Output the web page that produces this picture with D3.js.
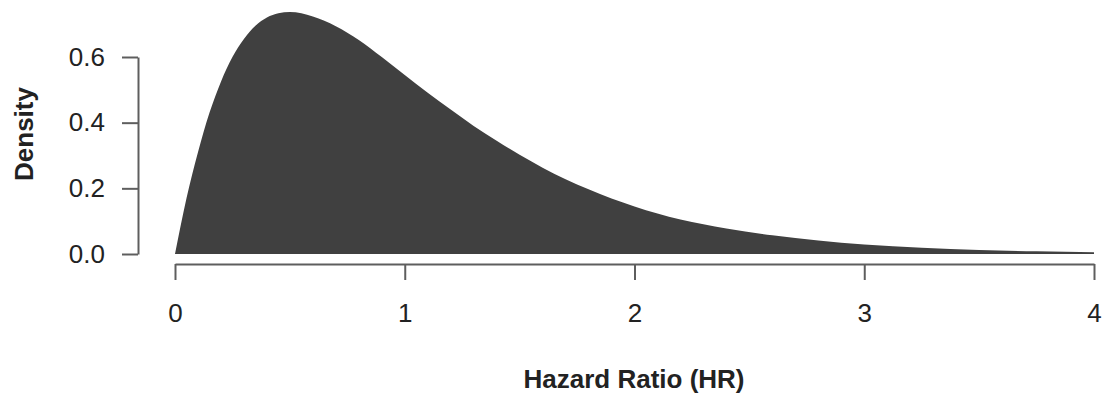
<!DOCTYPE html>
<html>
<head>
<meta charset="utf-8">
<script src="https://cdn.jsdelivr.net/npm/d3@7"></script>
<style>
  body { margin: 0; background: #fff; }
  svg text { font-family: "Liberation Sans", Arial, sans-serif; fill: #222; }
</style>
</head>
<body>
<div id="chart"></div>
<script>
// values: hazard ratio and density
const hr = [0, 0.05, 0.1, 0.15, 0.2, 0.25, 0.3, 0.35, 0.4, 0.45, 0.5, 0.55, 0.6, 0.7, 0.8, 0.9,
            1.0, 1.1, 1.2, 1.3, 1.4, 1.5, 1.6, 1.7, 1.8, 1.9, 2.0, 2.2, 2.4, 2.6, 2.8,
            3.0, 3.25, 3.5, 3.75, 4.0];
const density = [0, 0.17, 0.31, 0.43, 0.525, 0.60, 0.655, 0.695, 0.72, 0.733, 0.737, 0.733, 0.723, 0.694, 0.652, 0.600,
                 0.545, 0.491, 0.440, 0.390, 0.345, 0.302, 0.263, 0.228, 0.197, 0.169, 0.145, 0.105, 0.078, 0.057, 0.041,
                 0.029, 0.019, 0.012, 0.008, 0.005];
const xTicks = [0, 1, 2, 3, 4];
const yTicks = [0, 0.2, 0.4, 0.6];

const data = hr.map((h, i) => ({hr: h, d: density[i]}));

const svg = d3.select("#chart")
    .append("svg")
    .attr("width", 1104)
    .attr("height", 396);

const x = d3.scaleLinear().domain([0, 4]).range([175, 1094]);
const y = d3.scaleLinear().domain([0, 0.6]).range([254, 57]);

const area = d3.area()
    .x(d => x(d.hr))
    .y0(y(0))
    .y1(d => y(d.d))
    .curve(d3.curveMonotoneX);

svg.append("path")
    .datum(data)
    .attr("d", area)
    .attr("fill", "#404040");

// x axis
const gx = svg.append("g")
    .attr("transform", "translate(0,264)")
    .call(d3.axisBottom(x).tickValues(xTicks).tickSize(16).tickSizeOuter(0).tickPadding(24)
        .tickFormat(d3.format("d")));

// y axis
const gy = svg.append("g")
    .attr("transform", "translate(138,0)")
    .call(d3.axisLeft(y).tickValues(yTicks).tickSize(16).tickSizeOuter(0).tickPadding(17)
        .tickFormat(d3.format(".1f")));

[gx, gy].forEach(g => {
    g.selectAll(".domain, line").attr("stroke", "#5e5e5e").attr("stroke-width", 2);
    g.selectAll("text").style("font-size", "26px").attr("fill", "#222");
});

svg.append("text")
    .attr("x", 634)
    .attr("y", 388)
    .attr("text-anchor", "middle")
    .style("font-size", "26px")
    .style("font-weight", "bold")
    .text("Hazard Ratio (HR)");

svg.append("text")
    .attr("transform", "translate(33,134) rotate(-90)")
    .attr("text-anchor", "middle")
    .style("font-size", "26px")
    .style("font-weight", "bold")
    .text("Density");
</script>
</body>
</html>
